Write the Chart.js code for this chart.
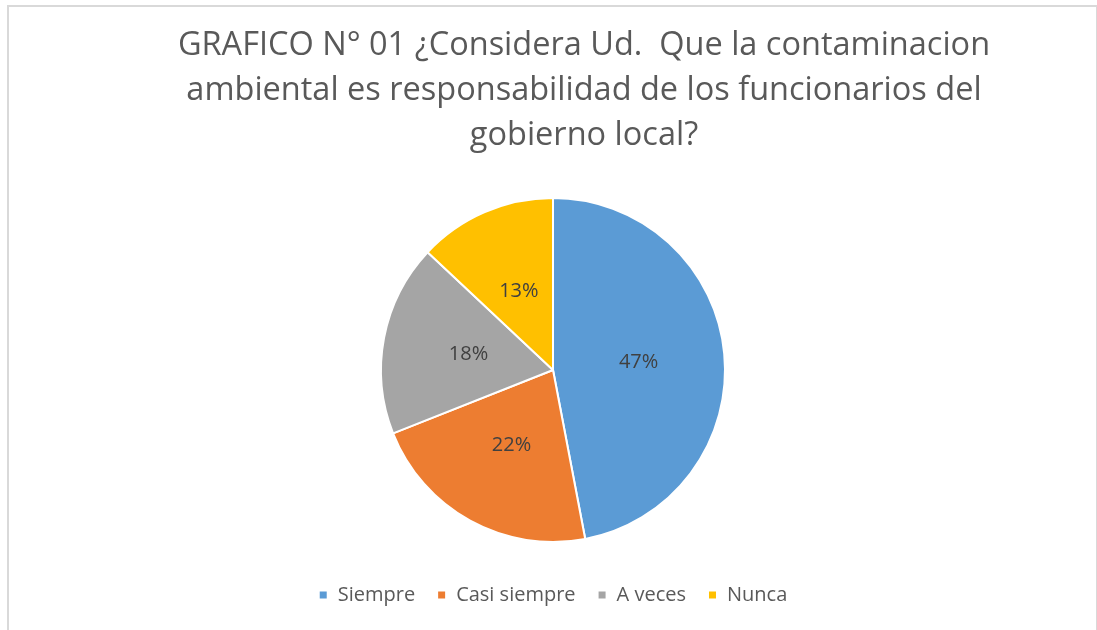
<!DOCTYPE html>
<html>
<head>
<meta charset="utf-8">
<script src="https://cdn.jsdelivr.net/npm/chart.js@4.4.0/dist/chart.umd.min.js"></script>
<style>
  body { margin: 0; background: #fff; }
  #wrap { position: relative; width: 1097px; height: 630px; overflow: hidden; }
  #chart { position: absolute; left: 0; top: 0; }
  #frame { position: absolute; left: 7px; top: 5px; width: 1087px; height: 640px;
           border: 2px solid #d9d9d9; pointer-events: none; }
</style>
</head>
<body>
<div id="wrap">
  <canvas id="chart" width="1097" height="630"></canvas>
  <div id="frame"></div>
</div>
<script>
// --- Données ---
const categories = ['Siempre', 'Casi siempre', 'A veces', 'Nunca'];
const percentages = [47, 22, 18, 13];
const sliceColors = ['#5B9BD5', '#ED7D31', '#A5A5A5', '#FFC000'];
const titleLines = [
  'GRAFICO N° 01 ¿Considera Ud.  Que la contaminacion',
  'ambiental es responsabilidad de los funcionarios del',
  'gobierno local?'
];

// --- Titre dessiné à la main (centré à droite du camembert) ---
const titlePlugin = {
  id: 'titreManuel',
  afterDraw(chart) {
    const ctx = chart.ctx;
    ctx.save();
    ctx.fillStyle = '#595959';
    ctx.font = '32.5px "Open Sans"';
    ctx.textAlign = 'center';
    ctx.textBaseline = 'alphabetic';
    titleLines.forEach((line, i) => ctx.fillText(line, 584, 55 + i * 45));
    ctx.restore();
  }
};

// --- Étiquettes de pourcentage ---
const labelPlugin = {
  id: 'pourcentages',
  afterDatasetsDraw(chart) {
    const ctx = chart.ctx;
    const meta = chart.getDatasetMeta(0);
    ctx.save();
    ctx.fillStyle = '#404040';
    ctx.font = '20px "Open Sans"';
    ctx.textAlign = 'center';
    ctx.textBaseline = 'middle';
    meta.data.forEach((arc, i) => {
      const p = arc.tooltipPosition();
      ctx.fillText(percentages[i] + '%', p.x, p.y);
    });
    ctx.restore();
  }
};

new Chart(document.getElementById('chart'), {
  type: 'pie',
  data: {
    labels: categories,
    datasets: [{
      data: percentages,
      backgroundColor: sliceColors,
      borderColor: '#ffffff',
      borderWidth: 2,
      radius: 172
    }]
  },
  options: {
    responsive: false,
    animation: false,
    layout: { padding: { top: 177, left: 9, right: 0, bottom: 15 } },
    plugins: {
      title: { display: false },
      tooltip: { enabled: false },
      legend: {
        position: 'bottom',
        labels: {
          boxWidth: 9,
          boxHeight: 9,
          padding: 22,
          color: '#595959',
          font: { family: 'Open Sans', size: 20 }
        }
      }
    }
  },
  plugins: [titlePlugin, labelPlugin]
});
</script>
</body>
</html>
